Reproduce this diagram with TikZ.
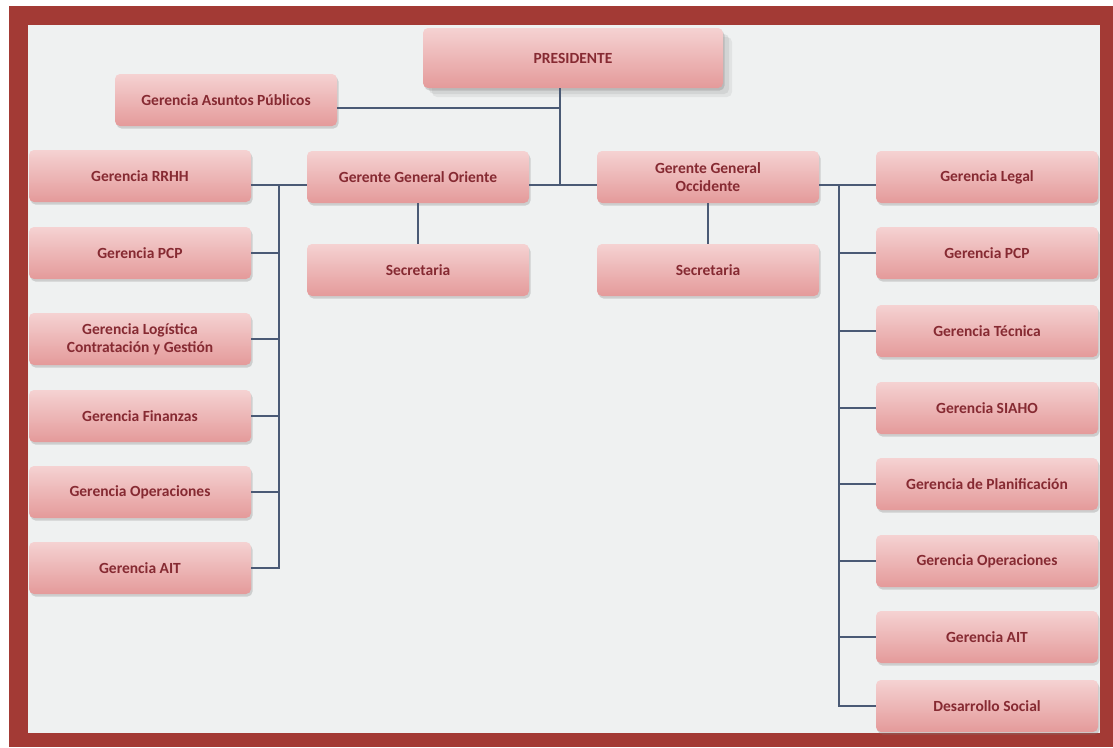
\documentclass[tikz,border=0pt]{standalone}
\usepackage{fontspec}
\setmainfont{Carlito}
\usetikzlibrary{shadows}
\definecolor{framered}{HTML}{A33A35}
\definecolor{panelgray}{HTML}{EFF1F1}
\definecolor{boxtop}{HTML}{F5D2D2}
\definecolor{boxbot}{HTML}{E49A9A}
\definecolor{boxtext}{HTML}{862A32}
\definecolor{linkblue}{HTML}{4A5A75}

\begin{document}
\begin{tikzpicture}[x=1pt,y=-1pt,
		box/.style={rectangle,rounded corners=5pt,top color=boxtop,bottom color=boxbot,
			minimum width=222pt,minimum height=52pt,align=center,text=boxtext,
			font=\fontsize{15.5}{18}\selectfont\bfseries,
			drop shadow={shadow xshift=1.5pt,shadow yshift=-2.5pt,opacity=0.3}},
		boss/.style={box,minimum width=300pt,minimum height=60pt,
			drop shadow={shadow xshift=9pt,shadow yshift=-9pt,opacity=0.12},
			drop shadow={shadow xshift=6pt,shadow yshift=-6pt,opacity=0.15}},
		link/.style={draw=linkblue,line width=1.3pt}]
			\useasboundingbox (0,0) rectangle (1113,747);
			% Draw the frame
			\fill[framered] (9,6) rectangle (1113,747);
			\fill[panelgray] (28,25) rectangle (1100,733);
			
			% Draw the top of the chart
			\node[boss] (pres) at (573,58) {PRESIDENTE};
			\node[box] (asuntos) at (226,100) {Gerencia Asuntos Públicos};
			\node[box] (oriente) at (418,177) {Gerente General Oriente};
			\node[box] (occidente) at (708,177) {Gerente General\\Occidente};
			\node[box] (secO) at (418,270) {Secretaria};
			\node[box] (secOc) at (708,270) {Secretaria};
			
			% Draw the left column
			\node[box] (rrhh) at (140,176) {Gerencia RRHH};
			\node[box] (pcpL) at (140,253) {Gerencia PCP};
			\node[box] (logis) at (140,339) {Gerencia Logística\\Contratación y Gestión};
			\node[box] (finan) at (140,416) {Gerencia Finanzas};
			\node[box] (operL) at (140,492) {Gerencia Operaciones};
			\node[box] (aitL) at (140,568) {Gerencia AIT};
			
			% Draw the right column
			\node[box] (legal) at (987,177) {Gerencia Legal};
			\node[box] (pcpR) at (987,253) {Gerencia PCP};
			\node[box] (tecnica) at (987,331) {Gerencia Técnica};
			\node[box] (siaho) at (987,408) {Gerencia SIAHO};
			\node[box] (planif) at (987,484) {Gerencia de Planificación};
			\node[box] (operR) at (987,561) {Gerencia Operaciones};
			\node[box] (aitR) at (987,637) {Gerencia AIT};
			\node[box] (social) at (987,706) {Desarrollo Social};
			
			% Draw the buses
			\coordinate (top) at (560,108);
			\coordinate (mid) at (560,185);
			\coordinate (lbus) at (279,185);
			\coordinate (rbus) at (839,185);
			\draw[link] (pres.south -| top) -- (mid);
			\draw[link] (asuntos.east |- top) -- (top);
			\draw[link] (oriente.east |- mid) -- (occidente.west |- mid);
			\draw[link] (rrhh.east |- lbus) -- (oriente.west |- lbus);
			\draw[link] (occidente.east |- rbus) -- (legal.west |- rbus);
			\draw[link] (oriente.south) -- (secO.north);
			\draw[link] (occidente.south) -- (secOc.north);
			\draw[link] (lbus) -- (lbus |- aitL.east) -- (aitL.east);
			\draw[link] (rbus) -- (rbus |- social.west) -- (social.west);
			\foreach \n in {pcpL,logis,finan,operL}
				\draw[link] (\n.east) -- (\n.east -| lbus);
			\foreach \n in {pcpR,tecnica,siaho,planif,operR,aitR}
				\draw[link] (\n.west) -- (\n.west -| rbus);
		\end{tikzpicture}
\end{document}
